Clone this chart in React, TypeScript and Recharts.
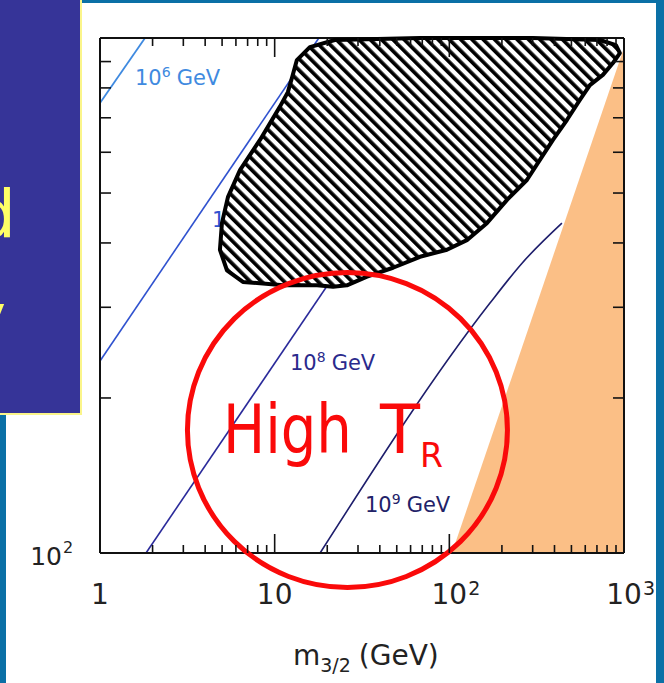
import React from 'react';
import { ComposedChart, XAxis, YAxis, Line, Area, Scatter, Curve } from 'recharts';

// ---- axis ticks (log scales) ----
const X_TICKS = [1, 2, 3, 4, 5, 6, 7, 8, 9, 10, 20, 30, 40, 50, 60, 70, 80, 90, 100, 200, 300, 400, 500, 600, 700, 800, 900, 1000];
const Y_TICKS = [100, 200, 300, 400, 500, 600, 700, 800, 900, 1000];

// ---- reheating-temperature contours (m3/2 [GeV], y) ----
const TR_1E6 = [{ x: 1, y: 748 }, { x: 1.81, y: 1000 }];
const TR_1E7 = [{ x: 1, y: 236 }, { x: 17.9, y: 1000 }];
const TR_1E8 = [{ x: 1.834, y: 100 }, { x: 183, y: 1000 }];
const TR_1E9 = [{ x: 18.2, y: 100 }, { x: 170, y: 305 }, { x: 260, y: 365 }, { x: 441, y: 437 }];

// ---- excluded (orange) region ----
const ORANGE_REGION = [{ x: 103.5, y: 100 }, { x: 1000, y: 957 }];

// ---- hatched region outline ----
const BLOB = [
  { x: 13.4, y: 906 }, { x: 15.9, y: 960 }, { x: 22.1, y: 991 }, { x: 67.9, y: 1000 }, { x: 301, y: 1000 },
  { x: 728, y: 991 }, { x: 899, y: 969 }, { x: 947, y: 935 }, { x: 864, y: 894 }, { x: 757, y: 848 },
  { x: 638, y: 810 }, { x: 559, y: 758 }, { x: 471, y: 693 }, { x: 392, y: 634 }, { x: 330, y: 580 },
  { x: 278, y: 530 }, { x: 214, y: 485 }, { x: 164, y: 437 }, { x: 126, y: 405 }, { x: 96.9, y: 388 },
  { x: 67.9, y: 376 }, { x: 47.6, y: 358 }, { x: 33.8, y: 344 }, { x: 25.9, y: 331 }, { x: 21.6, y: 329 },
  { x: 17.5, y: 331 }, { x: 11.2, y: 331 }, { x: 6.58, y: 336 }, { x: 5.33, y: 354 }, { x: 4.86, y: 388 },
  { x: 4.99, y: 437 }, { x: 5.4, y: 491 }, { x: 6.33, y: 554 }, { x: 8.24, y: 634 }, { x: 10.7, y: 735 },
  { x: 11.9, y: 785 }, { x: 12.6, y: 840 },
];

// ---- contour labels ----
const LINE_LABELS = [
  { x: 1.586, y: 810, exp: '6', color: '#3f8ae0' },
  { x: 4.38, y: 430, exp: '7', color: '#3052cf' },
  { x: 12.24, y: 226.6, exp: '8', color: '#2a2a8c' },
  { x: 32.9, y: 120, exp: '9', color: '#222268' },
];

// ---- annotation ----
const HIGH_TR = [{ x: 26.1, y: 173.3 }];

const FONT = '"DejaVu Sans", sans-serif';
const HAND = '"Comic Sans MS", "DejaVu Sans", sans-serif';

const isDecade = (v: number) => {
  const lg = Math.log10(v);
  return Math.abs(lg - Math.round(lg)) < 1e-6;
};

const XTickBottom = (props: any) => {
  const { x, y, payload } = props;
  const v = payload.value;
  const major = isDecade(v);
  const exp = Math.round(Math.log10(v));
  const edge = v === 1 || v === 1000;
  return (
    <g>
      {!edge && <line x1={x} x2={x} y1={y} y2={y - (major ? 19 : 8)} stroke="#111" strokeWidth={1.6} />}
      {major && (
        <g>
          <text x={x} y={y + 51} textAnchor="middle" fontSize={28} fontFamily={FONT} fill="#222">
            {exp === 0 ? '1' : '10'}
          </text>
          {exp >= 2 && (
            <text x={x + 19} y={y + 42} fontSize={19} fontFamily={FONT} fill="#222">{exp}</text>
          )}
        </g>
      )}
    </g>
  );
};

const XTickTop = (props: any) => {
  const { x, y, payload } = props;
  const v = payload.value;
  const edge = v === 1 || v === 1000;
  if (edge) return <g />;
  return <line x1={x} x2={x} y1={y} y2={y + (isDecade(v) ? 19 : 8)} stroke="#111" strokeWidth={1.6} />;
};

const YTickLeft = (props: any) => {
  const { x, y, payload } = props;
  const v = payload.value;
  const major = isDecade(v);
  const exp = Math.round(Math.log10(v));
  const edge = v === 100 || v === 1000;
  return (
    <g>
      {!edge && <line x1={x} x2={x + (major ? 19 : 11)} y1={y} y2={y} stroke="#111" strokeWidth={1.6} />}
      {major && (
        <g>
          <text x={x - 38} y={y + 12} textAnchor="end" fontSize={25} fontFamily={FONT} fill="#222">10</text>
          <text x={x - 37} y={y} fontSize={16} fontFamily={FONT} fill="#222">{exp}</text>
        </g>
      )}
    </g>
  );
};

const YTickRight = (props: any) => {
  const { x, y, payload } = props;
  const v = payload.value;
  if (v === 100 || v === 1000) return <g />;
  return <line x1={x} x2={x - (isDecade(v) ? 19 : 11)} y1={y} y2={y} stroke="#111" strokeWidth={1.6} />;
};

const XTitle = (props: any) => {
  const vb = props.viewBox || { x: 100, y: 553, width: 524, height: 130 };
  const x0 = vb.x + 193;
  const y0 = vb.y + 112;
  return (
    <text x={x0} y={y0} fontSize={28} fontFamily={FONT} fill="#222">
      m
      <tspan fontSize={19} dy={7}>3/2</tspan>
      <tspan fontSize={28} dy={-7} dx={8}>(GeV)</tspan>
    </text>
  );
};

const HiddenPoint = () => <g />;

const BlobOutline = (p: any) => (
  <Curve
    points={p.points}
    type="linearClosed"
    fill="url(#hatch)"
    stroke="#000"
    strokeWidth={4}
    strokeLinejoin="round"
  />
);

const LineLabel = (props: any) => {
  const { cx, cy, payload } = props;
  return (
    <text x={cx} y={cy} fill={payload.color} fontSize={21} fontFamily={FONT}>
      10
      <tspan fontSize={14} dy={-8}>{payload.exp}</tspan>
      <tspan fontSize={21} dy={8} dx={6}>GeV</tspan>
    </text>
  );
};

const HighTRMark = (props: any) => {
  const { cx, cy } = props;
  return (
    <g>
      <ellipse cx={cx} cy={cy} rx={160} ry={157.5} fill="none" stroke="#fa0a0a" strokeWidth={5} />
      <text x={cx - 124.5} y={cy + 23} fontSize={68} fontFamily={HAND} fill="#fa0a0a" textLength={129} lengthAdjust="spacingAndGlyphs">High</text>
      <text x={cx + 32.5} y={cy + 23} fontSize={68} fontFamily={HAND} fill="#fa0a0a" textLength={40} lengthAdjust="spacingAndGlyphs">T</text>
      <text x={cx + 72.5} y={cy + 37} fontSize={34} fontFamily={HAND} fill="#fa0a0a" textLength={23} lengthAdjust="spacingAndGlyphs">R</text>
    </g>
  );
};

const TEAL = '#0b70a6';

export default function App() {
  return (
    <div style={{ position: 'absolute', left: 0, top: 0, width: 664, height: 683, background: '#ffffff', overflow: 'hidden' }}>
      <div style={{ position: 'absolute', left: 0, top: 0 }}>
        <ComposedChart width={664} height={683} margin={{ top: 37, right: 39, bottom: 0, left: 0 }}>
          <defs>
            <pattern id="hatch" patternUnits="userSpaceOnUse" width={8} height={8} patternTransform="rotate(-45)">
              <rect x={0} y={0} width={8} height={8} fill="#ffffff" />
              <rect x={0} y={0} width={3.7} height={8} fill="#000000" />
            </pattern>
          </defs>
          <Area
            xAxisId="b"
            yAxisId="l"
            data={ORANGE_REGION}
            dataKey="y"
            type="linear"
            fill="#fbbf86"
            fillOpacity={1}
            stroke="none"
            isAnimationActive={false}
            dot={false}
            activeDot={false}
          />
          <Line xAxisId="b" yAxisId="l" data={TR_1E6} dataKey="y" type="linear" stroke="#3f8ae0" strokeWidth={1.8} dot={false} activeDot={false} isAnimationActive={false} />
          <Line xAxisId="b" yAxisId="l" data={TR_1E7} dataKey="y" type="linear" stroke="#3052cf" strokeWidth={1.6} dot={false} activeDot={false} isAnimationActive={false} />
          <Line xAxisId="b" yAxisId="l" data={TR_1E8} dataKey="y" type="linear" stroke="#2a2a9a" strokeWidth={1.6} dot={false} activeDot={false} isAnimationActive={false} />
          <Line xAxisId="b" yAxisId="l" data={TR_1E9} dataKey="y" type="monotone" stroke="#1e1e6c" strokeWidth={1.6} dot={false} activeDot={false} isAnimationActive={false} />
          {/* same contour referenced to the mirrored (top/right) frame axes, drawn invisibly */}
          <Line xAxisId="t" yAxisId="r" data={TR_1E6} dataKey="y" type="linear" stroke="none" strokeWidth={0} dot={false} activeDot={false} isAnimationActive={false} />
          <Scatter xAxisId="b" yAxisId="l" data={LINE_LABELS} dataKey="y" shape={LineLabel} isAnimationActive={false} />

          <XAxis
            xAxisId="b"
            dataKey="x"
            type="number"
            scale="log"
            domain={[1, 1000]}
            ticks={X_TICKS}
            interval={0}
            height={130}
            tickSize={0}
            tickMargin={0}
            tickLine={false}
            tick={(p: any) => <XTickBottom {...p} />}
            axisLine={{ stroke: '#111', strokeWidth: 2 }}
            label={(p: any) => <XTitle {...p} />}
          />
          <XAxis
            xAxisId="t"
            orientation="top"
            dataKey="x"
            type="number"
            scale="log"
            domain={[1, 1000]}
            ticks={X_TICKS}
            interval={0}
            height={1}
            tickSize={0}
            tickMargin={0}
            tickLine={false}
            tick={(p: any) => <XTickTop {...p} />}
            axisLine={{ stroke: '#111', strokeWidth: 2 }}
          />
          <YAxis
            yAxisId="l"
            dataKey="y"
            type="number"
            scale="log"
            domain={[100, 1000]}
            ticks={Y_TICKS}
            interval={0}
            width={100}
            tickSize={0}
            tickMargin={0}
            tickLine={false}
            tick={(p: any) => <YTickLeft {...p} />}
            axisLine={{ stroke: '#111', strokeWidth: 2 }}
          />
          <YAxis
            yAxisId="r"
            orientation="right"
            dataKey="y"
            type="number"
            scale="log"
            domain={[100, 1000]}
            ticks={Y_TICKS}
            interval={0}
            width={1}
            tickSize={0}
            tickMargin={0}
            tickLine={false}
            tick={(p: any) => <YTickRight {...p} />}
            axisLine={{ stroke: '#111', strokeWidth: 2 }}
          />

          <Scatter
            xAxisId="b"
            yAxisId="l"
            data={BLOB}
            dataKey="y"
            shape={HiddenPoint}
            line={BlobOutline}
            lineType="joint"
            isAnimationActive={false}
          />
          <Scatter xAxisId="b" yAxisId="l" data={HIGH_TR} dataKey="y" shape={HighTRMark} isAnimationActive={false} />
        </ComposedChart>
      </div>

      {/* slide frame */}
      <div style={{ position: 'absolute', left: 82, top: 0, width: 582, height: 3, background: TEAL }} />
      <div style={{ position: 'absolute', left: 656, top: 0, width: 8, height: 683, background: TEAL }} />
      <div style={{ position: 'absolute', left: 0, top: 415, width: 6, height: 268, background: TEAL }} />
      <div
        style={{
          position: 'absolute',
          left: 0,
          top: 0,
          width: 80,
          height: 413,
          background: '#363498',
          borderRight: '2px solid #fbf58a',
          borderBottom: '2px solid #fbf58a',
          overflow: 'hidden',
        }}
      >
        <svg width={80} height={413} style={{ display: 'block' }}>
          <text x={16} y={237} textAnchor="end" fontSize={66} fontFamily={HAND} fill="#ffff66">d</text>
          <text x={6} y={340} textAnchor="end" fontSize={66} fontFamily={HAND} fill="#ffff66">y</text>
        </svg>
      </div>
    </div>
  );
}
